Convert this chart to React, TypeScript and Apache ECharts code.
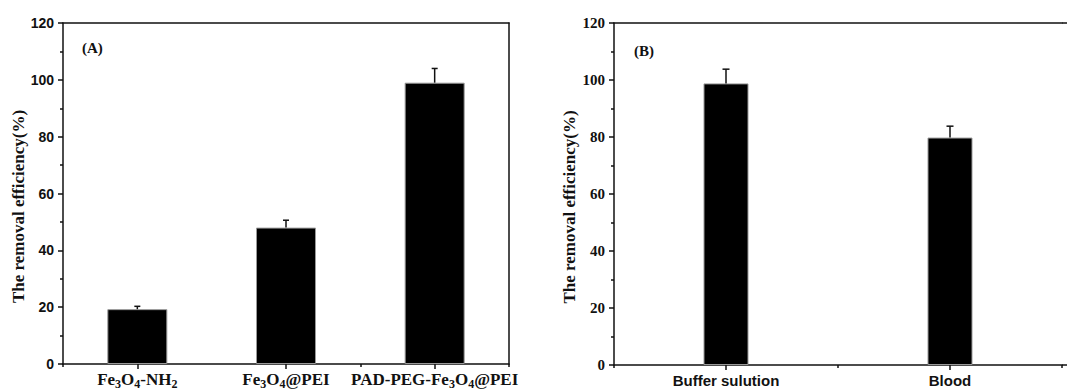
import React, { useEffect, useRef } from "react";
import * as echarts from "echarts";

const catsA = ["{n|Fe}{s|3}{n|O}{s|4}{n|-NH}{s|2}", "{n|Fe}{s|3}{n|O}{s|4}{n|@PEI}", "{n|PAD-PEG-Fe}{s|3}{n|O}{s|4}{n|@PEI}"];
const valuesA = [19.3, 48.0, 99.0];
const errorsA = [1.0, 2.6, 5.0];
const catsB = ["Buffer sulution", "Blood"];
const valuesB = [98.8, 79.8];
const errorsB = [5.0, 4.0];
const yMin = 0;
const yMax = 120;
const yStep = 20;

const serif = "'Liberation Serif', 'Times New Roman', serif";
const sans = "'Liberation Sans', Arial, sans-serif";

function errRender(cap: number) {
  return (params: any, api: any) => {
    const c = api.value(0);
    const v = api.value(1);
    const e = api.value(2);
    const p0 = api.coord([c, v]);
    const p1 = api.coord([c, v + e]);
    const st = { stroke: "#111", lineWidth: 1.5 };
    return {
      type: "group",
      children: [
        { type: "line", shape: { x1: p0[0], y1: p0[1], x2: p1[0], y2: p1[1] }, style: st },
        { type: "line", shape: { x1: p1[0] - cap, y1: p1[1], x2: p1[0] + cap, y2: p1[1] }, style: st },
      ],
    };
  };
}

export default function App() {
  const ref = useRef<HTMLDivElement>(null);
  useEffect(() => {
    if (!ref.current) return;
    const chart = echarts.init(ref.current, undefined, { renderer: "svg" });
    const line = { lineStyle: { color: "#111", width: 1.5 } };
    const yBase = (fontFamily: string, gap: number, gi: number, size: number) => ({
      type: "value",
      gridIndex: gi,
      min: yMin,
      max: yMax,
      interval: yStep,
      position: "left",
      axisLine: { show: true, onZero: false, ...line },
      axisTick: { show: true, inside: false, length: 5, ...line },
      minorTick: { show: true, splitNumber: 2, length: 3, lineStyle: { color: "#111", width: 1.5 } },
      splitLine: { show: false },
      axisLabel: { fontFamily, fontWeight: "bold", fontSize: size, color: "#111", margin: 9 },
      name: "The removal efficiency(%)",
      nameLocation: "middle",
      nameGap: gap,
      nameTextStyle: { fontFamily: serif, fontWeight: "bold", fontSize: 17, color: "#111", padding: [0, 0, 0, -26] },
    });
    const yRight = (gi: number) => ({
      type: "value", gridIndex: gi, min: yMin, max: yMax, interval: yStep, position: "right",
      axisLine: { show: true, onZero: false, ...line }, axisTick: { show: false }, axisLabel: { show: false }, splitLine: { show: false },
    });
    chart.setOption({
      animation: false,
      backgroundColor: "#fff",
      grid: [
        { left: 63, top: 23, width: 446, height: 341 },
        { left: 614, top: 23, width: 448, height: 342 },
      ],
      xAxis: [
        {
          type: "category", gridIndex: 0, data: catsA, position: "bottom",
          axisLine: { show: true, onZero: false, ...line },
          axisTick: { show: true, alignWithLabel: true, length: 5, ...line },
          axisLabel: {
            margin: 4, color: "#111", interval: 0,
            rich: {
              n: { fontFamily: serif, fontWeight: "bold", fontSize: 17, color: "#111", lineHeight: 22, verticalAlign: "middle" },
              s: { fontFamily: serif, fontWeight: "bold", fontSize: 12, color: "#111", lineHeight: 12, verticalAlign: "bottom" },
            },
          },
        },
        {
          type: "category", gridIndex: 0, data: catsA, position: "bottom",
          axisLine: { show: false, onZero: false }, axisTick: { show: true, length: 3, ...line }, axisLabel: { show: false },
        },
        {
          type: "category", gridIndex: 0, data: catsA, position: "top",
          axisLine: { show: true, onZero: false, ...line }, axisTick: { show: false }, axisLabel: { show: false },
        },
        {
          type: "category", gridIndex: 1, data: catsB, position: "bottom",
          axisLine: { show: true, onZero: false, ...line },
          axisTick: { show: true, alignWithLabel: true, length: 5, ...line },
          axisLabel: { margin: 8, color: "#111", fontFamily: sans, fontWeight: "bold", fontSize: 15, interval: 0 },
        },
        {
          type: "category", gridIndex: 1, data: catsB, position: "bottom",
          axisLine: { show: false, onZero: false }, axisTick: { show: true, length: 3, ...line }, axisLabel: { show: false },
        },
        {
          type: "category", gridIndex: 1, data: catsB, position: "top",
          axisLine: { show: true, onZero: false, ...line }, axisTick: { show: false }, axisLabel: { show: false },
        },
      ],
      yAxis: [yBase(sans, 34, 0, 14), yRight(0), yBase(serif, 36, 1, 15)],
      graphic: [
        { type: "text", left: 82, top: 40, style: { text: "(A)", font: `bold 15px ${serif}`, fill: "#111" } },
        { type: "text", left: 634, top: 43, style: { text: "(B)", font: `bold 15px ${serif}`, fill: "#111" } },
        { type: "line", shape: { x1: 1062, y1: 23, x2: 1067, y2: 23 }, style: { stroke: "#111", lineWidth: 1.5 } },
        { type: "line", shape: { x1: 1062, y1: 365, x2: 1067, y2: 365 }, style: { stroke: "#111", lineWidth: 1.5 } },
      ],
      series: [
        {
          type: "bar", xAxisIndex: 0, yAxisIndex: 0, data: valuesA, barWidth: 60,
          itemStyle: { color: "#000", borderColor: "#999", borderWidth: 1 },
        },
        {
          type: "custom", xAxisIndex: 0, yAxisIndex: 0, z: 5,
          data: valuesA.map((v, i) => [i, v, errorsA[i]]),
          renderItem: errRender(3),
        },
        {
          type: "bar", xAxisIndex: 3, yAxisIndex: 2, data: valuesB, barWidth: 45,
          itemStyle: { color: "#000", borderColor: "#999", borderWidth: 1 },
        },
        {
          type: "custom", xAxisIndex: 3, yAxisIndex: 2, z: 5,
          data: valuesB.map((v, i) => [i, v, errorsB[i]]),
          renderItem: errRender(3.5),
        },
      ],
    });
    return () => chart.dispose();
  }, []);
  return (
    <div
      ref={ref}
      style={{ position: "absolute", left: 0, top: 0, width: 1067, height: 392, background: "#fff" }}
    />
  );
}
